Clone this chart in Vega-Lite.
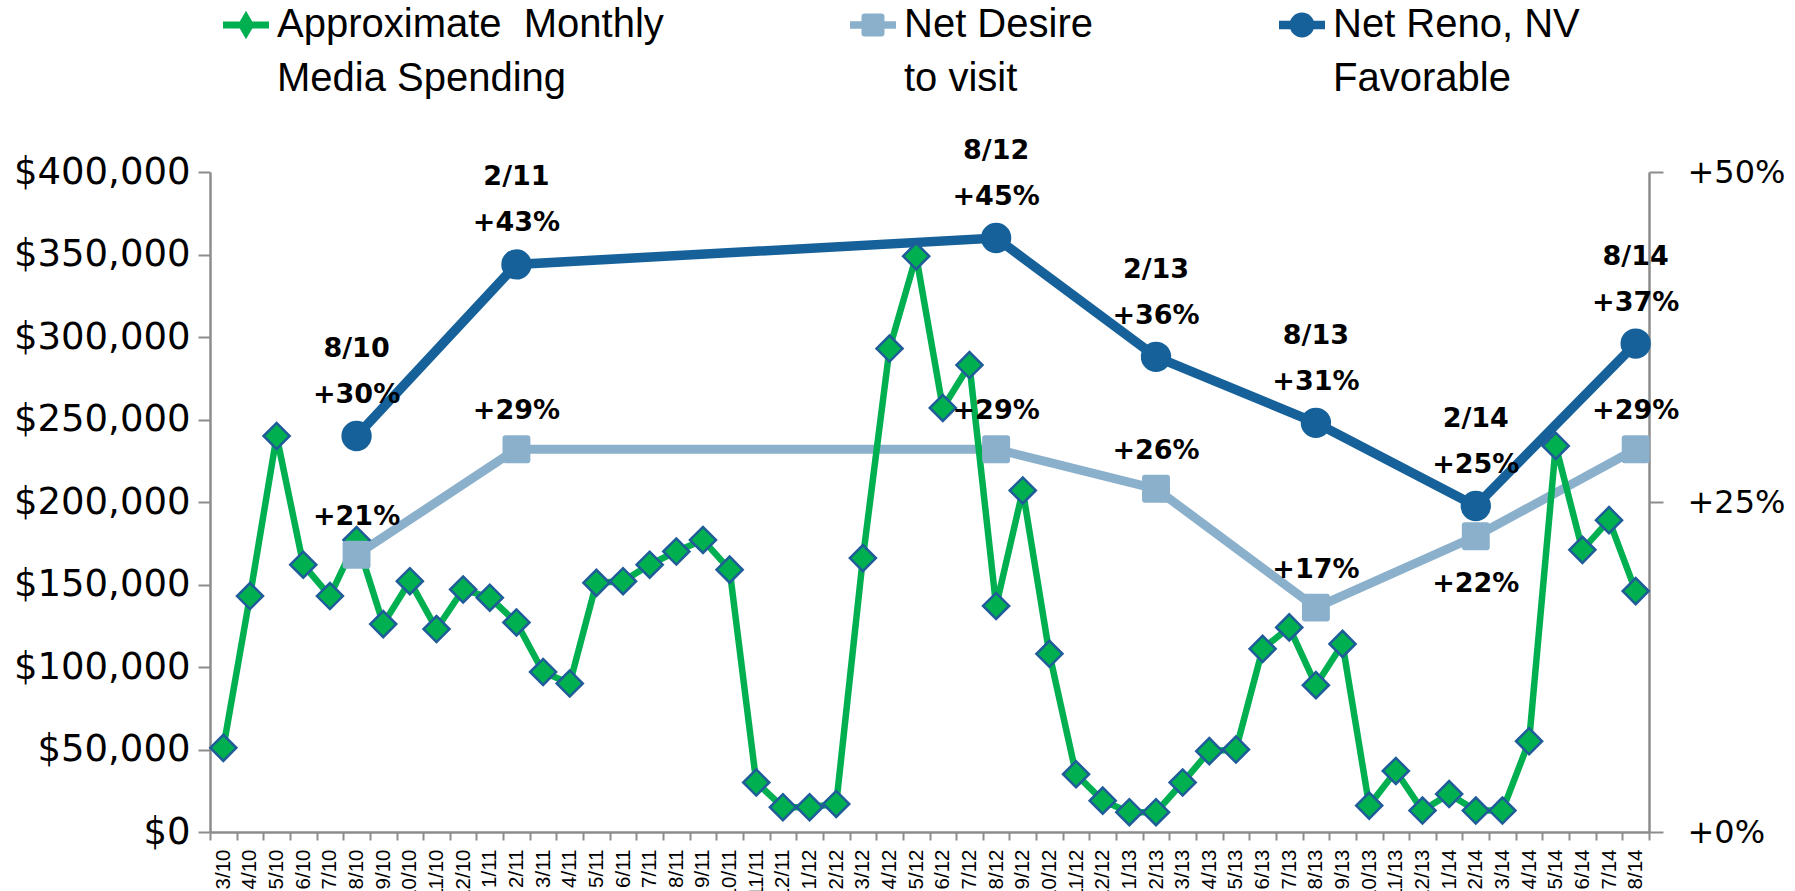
{
  "$schema": "https://vega.github.io/schema/vega-lite/v6.json",
  "autosize": {"type": "none"},
  "width": 1439,
  "height": 660,
  "padding": {"left": 210, "top": 172, "right": 146, "bottom": 59},
  "background": "white",
  "config": {"view": {"stroke": null}},
  "datasets": {
    "spend": [
      {"m": "3/10", "v": 51000}, {"m": "4/10", "v": 143000}, {"m": "5/10", "v": 240000}, {"m": "6/10", "v": 162000},
      {"m": "7/10", "v": 143000}, {"m": "8/10", "v": 177000}, {"m": "9/10", "v": 126000}, {"m": "10/10", "v": 152000},
      {"m": "11/10", "v": 123000}, {"m": "12/10", "v": 147000}, {"m": "1/11", "v": 142000}, {"m": "2/11", "v": 127000},
      {"m": "3/11", "v": 97000}, {"m": "4/11", "v": 90000}, {"m": "5/11", "v": 151000}, {"m": "6/11", "v": 152000},
      {"m": "7/11", "v": 162000}, {"m": "8/11", "v": 170000}, {"m": "9/11", "v": 177000}, {"m": "10/11", "v": 159000},
      {"m": "11/11", "v": 30000}, {"m": "12/11", "v": 15000}, {"m": "1/12", "v": 15000}, {"m": "2/12", "v": 17000},
      {"m": "3/12", "v": 166000}, {"m": "4/12", "v": 293000}, {"m": "5/12", "v": 349000}, {"m": "6/12", "v": 257000},
      {"m": "7/12", "v": 283000}, {"m": "8/12", "v": 137000}, {"m": "9/12", "v": 207000}, {"m": "10/12", "v": 108000},
      {"m": "11/12", "v": 35000}, {"m": "12/12", "v": 19000}, {"m": "1/13", "v": 12000}, {"m": "2/13", "v": 12000},
      {"m": "3/13", "v": 30000}, {"m": "4/13", "v": 49000}, {"m": "5/13", "v": 50000}, {"m": "6/13", "v": 111000},
      {"m": "7/13", "v": 124000}, {"m": "8/13", "v": 89000}, {"m": "9/13", "v": 114000}, {"m": "10/13", "v": 16000},
      {"m": "11/13", "v": 37000}, {"m": "12/13", "v": 13000}, {"m": "1/14", "v": 23000}, {"m": "2/14", "v": 13000},
      {"m": "3/14", "v": 13000}, {"m": "4/14", "v": 55000}, {"m": "5/14", "v": 234000}, {"m": "6/14", "v": 171000},
      {"m": "7/14", "v": 189000}, {"m": "8/14", "v": 146000}
    ],
    "survey": [
      {"m": "8/10", "desire": 0.21, "reno": 0.30},
      {"m": "2/11", "desire": 0.29, "reno": 0.43},
      {"m": "8/12", "desire": 0.29, "reno": 0.45},
      {"m": "2/13", "desire": 0.26, "reno": 0.36},
      {"m": "8/13", "desire": 0.17, "reno": 0.31},
      {"m": "2/14", "desire": 0.224, "reno": 0.247},
      {"m": "8/14", "desire": 0.29, "reno": 0.37}
    ]
  },
  "encoding": {
    "x": {
      "field": "m", "type": "ordinal", "bandPosition": 0.5, "title": null,
      "scale": {"type": "band", "paddingInner": 0, "paddingOuter": 0,
        "domain": ["3/10","4/10","5/10","6/10","7/10","8/10","9/10","10/10","11/10","12/10",
          "1/11","2/11","3/11","4/11","5/11","6/11","7/11","8/11","9/11","10/11","11/11","12/11",
          "1/12","2/12","3/12","4/12","5/12","6/12","7/12","8/12","9/12","10/12","11/12","12/12",
          "1/13","2/13","3/13","4/13","5/13","6/13","7/13","8/13","9/13","10/13","11/13","12/13",
          "1/14","2/14","3/14","4/14","5/14","6/14","7/14","8/14"]},
      "axis": {"labelAngle": 270, "tickBand": "extent", "labelFont": "Liberation Sans", "labelFontSize": 20.5,
        "labelColor": "black", "domainColor": "#8c8c8c", "domainWidth": 2.5, "tickColor": "#8c8c8c",
        "tickWidth": 2, "tickSize": 8, "labelPadding": 9, "grid": false, "labelOverlap": false, "labelBound": false}
    }
  },
  "layer": [
    {
      "data": {"name": "survey"},
      "mark": {"type": "line", "strokeWidth": 9, "strokeCap": "round"},
      "encoding": {
        "y": {"field": "desire", "type": "quantitative", "scale": {"domain": [0, 0.5]},
          "axis": {"orient": "right", "values": [0, 0.25, 0.5], "format": "+.0%", "title": null, "grid": false,
            "labelFont": "DejaVu Sans", "labelFontSize": 32, "labelColor": "black", "domainColor": "#8c8c8c",
            "domainWidth": 2.5, "tickColor": "#8c8c8c", "tickWidth": 2, "tickSize": 14, "labelPadding": 24, "labelLimit": 0}},
        "color": {"datum": "Net Desire to visit", "type": "nominal",
          "scale": {"domain": ["Approximate  Monthly Media Spending", "Net Desire to visit", "Net Reno, NV Favorable"],
            "range": ["#00b050", "#8bb0cb", "#16619a"]},
          "legend": {
            "orient": "none", "legendX": 13, "legendY": -170, "direction": "horizontal", "title": null,
            "labelFont": "Liberation Sans", "labelFontSize": 40, "labelColor": "black", "labelLimit": 0,
            "labelOffset": 8, "symbolSize": 2116, "columnPadding": 186,
            "labelExpr": "datum.value == 'Approximate  Monthly Media Spending' ? ['Approximate\u00a0 Monthly','Media Spending'] : datum.value == 'Net Desire to visit' ? ['Net Desire','to visit'] : ['Net Reno, NV','Favorable']",
            "encode": {
              "symbols": {"update": {
                "shape": {"signal": "datum.value == 'Approximate  Monthly Media Spending' ? 'M-1,-0.15H1V0.15H-1Z M0,-0.62L0.36,0L0,0.62L-0.36,0Z' : datum.value == 'Net Desire to visit' ? 'M-1,-0.16H1V0.16H-1Z M-0.36,-0.5H0.36Q0.5,-0.5 0.5,-0.36V0.36Q0.5,0.5 0.36,0.5H-0.36Q-0.5,0.5 -0.5,0.36V-0.36Q-0.5,-0.5 -0.36,-0.5Z' : 'M-1,-0.18H1V0.18H-1Z M-0.54,0A0.54,0.54 0 1,1 0.54,0A0.54,0.54 0 1,1 -0.54,0Z'"},
                "fill": {"signal": "scale('color', datum.value)"},
                "fillOpacity": {"value": 1},
                "opacity": {"value": 1},
                "strokeWidth": {"value": 0}
              }},
              "labels": {"update": {"dy": {"value": 0}, "lineHeight": {"value": 54}}}
            }
          }}
      }
    },
    {
      "data": {"name": "survey"},
      "mark": {"type": "line", "strokeWidth": 9.5, "strokeCap": "round"},
      "encoding": {
        "y": {"field": "reno", "type": "quantitative", "scale": {"domain": [0, 0.5]}, "axis": null},
        "color": {"datum": "Net Reno, NV Favorable", "type": "nominal"}
      }
    },
    {
      "data": {"name": "spend"},
      "mark": {"type": "line", "strokeWidth": 6.5},
      "encoding": {
        "y": {"field": "v", "type": "quantitative", "scale": {"domain": [0, 400000]},
          "axis": {"orient": "left", "values": [0,50000,100000,150000,200000,250000,300000,350000,400000],
            "format": "$,.0f", "title": null, "grid": false,
            "labelFont": "DejaVu Sans", "labelFontSize": 37, "labelColor": "black", "domainColor": "#8c8c8c",
            "domainWidth": 2.5, "tickColor": "#8c8c8c", "tickWidth": 2, "tickSize": 12, "labelPadding": 8, "labelLimit": 0}},
        "color": {"datum": "Approximate  Monthly Media Spending", "type": "nominal"}
      }
    },
    {
      "data": {"name": "spend"},
      "mark": {"type": "point", "shape": "diamond", "filled": true, "fill": "#00b050", "stroke": "#1f5c99",
        "strokeWidth": 2.5, "size": 680, "opacity": 1},
      "encoding": {
        "y": {"field": "v", "type": "quantitative", "scale": {"domain": [0, 400000]}, "axis": null}
      }
    },
    {
      "data": {"name": "survey"},
      "mark": {"type": "point", "shape": "square", "filled": true, "fill": "#8bb0cb", "stroke": "#8bb0cb",
        "strokeWidth": 6, "strokeJoin": "round", "size": 480, "opacity": 1},
      "encoding": {
        "y": {"field": "desire", "type": "quantitative", "scale": {"domain": [0, 0.5]}, "axis": null}
      }
    },
    {
      "data": {"name": "survey"},
      "mark": {"type": "point", "shape": "circle", "filled": true, "fill": "#16619a", "size": 920, "opacity": 1},
      "encoding": {
        "y": {"field": "reno", "type": "quantitative", "scale": {"domain": [0, 0.5]}, "axis": null}
      }
    },
    {
      "data": {"name": "survey"},
      "transform": [{"filter": "datum.m != '2/14'"}],
      "mark": {"type": "text", "font": "DejaVu Sans", "fontWeight": "bold", "fontSize": 27, "color": "black", "dy": -38},
      "encoding": {
        "y": {"field": "desire", "type": "quantitative", "scale": {"domain": [0, 0.5]}, "axis": null},
        "text": {"field": "desire", "type": "quantitative", "format": "+.0%"}
      }
    },
    {
      "data": {"name": "survey"},
      "transform": [{"filter": "datum.m == '2/14'"}],
      "mark": {"type": "text", "font": "DejaVu Sans", "fontWeight": "bold", "fontSize": 27, "color": "black", "dy": 48},
      "encoding": {
        "y": {"field": "desire", "type": "quantitative", "scale": {"domain": [0, 0.5]}, "axis": null},
        "text": {"field": "desire", "type": "quantitative", "format": "+.0%"}
      }
    },
    {
      "data": {"name": "survey"},
      "mark": {"type": "text", "font": "DejaVu Sans", "fontWeight": "bold", "fontSize": 27, "color": "black", "dy": -41},
      "encoding": {
        "y": {"field": "reno", "type": "quantitative", "scale": {"domain": [0, 0.5]}, "axis": null},
        "text": {"field": "reno", "type": "quantitative", "format": "+.0%"}
      }
    },
    {
      "data": {"name": "survey"},
      "mark": {"type": "text", "font": "DejaVu Sans", "fontWeight": "bold", "fontSize": 27, "color": "black", "dy": -87},
      "encoding": {
        "y": {"field": "reno", "type": "quantitative", "scale": {"domain": [0, 0.5]}, "axis": null},
        "text": {"field": "m", "type": "nominal"}
      }
    }
  ],
  "resolve": {"scale": {"y": "independent"}}
}
